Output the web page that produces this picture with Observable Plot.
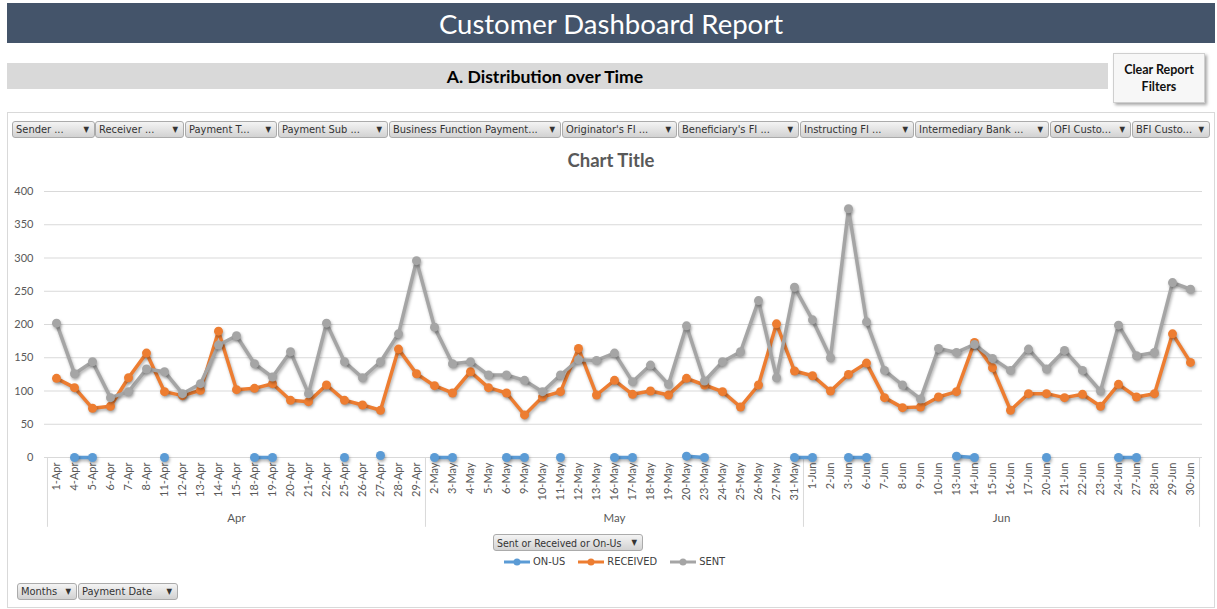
<!DOCTYPE html>
<html><head><meta charset="utf-8">
<script src="https://cdn.jsdelivr.net/npm/d3@7"></script>
<script src="https://cdn.jsdelivr.net/npm/@observablehq/plot@0.6"></script>
<style>
body{margin:0;width:1217px;height:609px;position:relative;background:#fff;font-family:Lato,"Open Sans",sans-serif;overflow:hidden}
#titlebar{position:absolute;left:7px;top:3px;width:1208px;height:40px;background:#44546A;color:#fff;font-size:27.5px;text-align:center;line-height:41px;font-family:Lato,sans-serif}
#section{position:absolute;left:7px;top:63px;width:1101px;height:26px;background:#D9D9D9;color:#000;font-weight:bold;font-size:17.6px;line-height:27px;text-align:center;font-family:Lato,sans-serif;box-sizing:border-box;padding-right:25px}
#clear{position:absolute;left:1113px;top:53px;width:92px;height:50px;background:#F7F7F7;border:1px solid #CFCFCF;box-shadow:2px 2px 3px rgba(0,0,0,0.35);box-sizing:border-box;font-weight:bold;font-size:12.5px;text-align:center;line-height:17px;padding-top:7px;font-family:Lato,sans-serif;color:#111}
#frame{position:absolute;left:7px;top:112px;width:1208px;height:496px;border:1px solid #D9D9D9;box-sizing:border-box}
.btn{position:absolute;height:17px;border:1px solid #ABABAB;border-radius:3px;background:linear-gradient(#F4F4F4,#D2D2D2);font-size:11px;color:#333;line-height:16px;padding-left:3px;box-sizing:border-box;font-family:"Liberation Sans Narrow","DejaVu Sans Condensed","Liberation Sans",sans-serif;white-space:nowrap;overflow:hidden}
.btn .ar{position:absolute;right:5px;top:0;font-size:8px;color:#333;background:transparent}
#charttitle{position:absolute;left:0;width:1222px;top:149px;text-align:center;font-weight:bold;font-size:18.5px;color:#595959;font-family:Lato,sans-serif}
#chart{position:absolute;left:0;top:170px}
#legend{position:absolute;top:555px;left:504px;font-size:11px;color:#404040;font-family:"Liberation Sans Narrow","DejaVu Sans Condensed",sans-serif;display:flex;gap:13px;align-items:center}
#legend span{display:flex;align-items:center;gap:3px}
</style>
</head><body>
<div id="titlebar">Customer Dashboard Report</div>
<div id="section">A. Distribution over Time</div>
<div id="clear">Clear Report<br>Filters</div>
<div id="frame"></div>
<div id="buttons"></div>
<div id="charttitle">Chart Title</div>
<div id="chart"></div>
<div id="legend"></div>
<script>
// ---- data ----
const dates = [
  "1-Apr","4-Apr","5-Apr","6-Apr","7-Apr","8-Apr","11-Apr","12-Apr","13-Apr","14-Apr","15-Apr",
  "18-Apr","19-Apr","20-Apr","21-Apr","22-Apr","25-Apr","26-Apr","27-Apr","28-Apr","29-Apr",
  "2-May","3-May","4-May","5-May","6-May","9-May","10-May","11-May","12-May","13-May","16-May",
  "17-May","18-May","19-May","20-May","23-May","24-May","25-May","26-May","27-May","31-May",
  "1-Jun","2-Jun","3-Jun","6-Jun","7-Jun","8-Jun","9-Jun","10-Jun","13-Jun","14-Jun","15-Jun",
  "16-Jun","17-Jun","20-Jun","21-Jun","22-Jun","23-Jun","24-Jun","27-Jun","28-Jun","29-Jun","30-Jun"
];
const monthLabels = ["Apr","May","Jun"];
const sent = [
  202,126,144,90,99,133,129,96,111,169,183,141,121,159,96,202,144,120,144,186,296,
  196,141,144,124,124,116,99,124,147,146,157,114,139,110,198,115,144,159,236,120,256,
  207,150,374,204,131,109,88,164,158,170,149,131,163,133,161,131,100,199,153,158,263,253
];
const received = [
  119,105,74,77,120,157,99,93,101,190,102,104,111,86,84,109,86,79,71,163,126,
  108,97,129,105,97,64,91,99,164,94,116,95,100,94,119,109,99,76,109,201,130,
  123,100,125,142,90,75,76,91,99,173,135,71,96,96,90,95,77,110,91,96,186,143
];
const onUs = [
  null,0,0,null,null,null,0,null,null,null,null,0,0,null,null,null,0,null,3,null,null,
  0,0,null,null,0,0,null,0,null,null,0,0,null,null,2,0,null,null,null,null,0,
  0,null,0,0,null,null,null,null,2,0,null,null,null,0,null,null,null,0,0,null,null,null
];
const seriesNames = ["ON-US","RECEIVED","SENT"];
const seriesColors = ["#5B9BD5","#ED7D31","#A5A5A5"];
const yTicks = [0,50,100,150,200,250,300,350,400];
const filterLabels = ["Sender ...","Receiver ...","Payment T...","Payment Sub ...","Business Function Payment...","Originator's FI ...","Beneficiary's FI ...","Instructing FI ...","Intermediary Bank ...","OFI Custo...","BFI Custo..."];

// ---- buttons (layout) ----
const btnLayout = [[12,83],[95,89],[185,92],[278,110],[389,172],[562,115],[678,121],[800,114],[915,134],[1050,81],[1132,78]];
const bdiv = document.getElementById("buttons");
function addBtn(label, left, top, width, fs){
  const b = document.createElement("div");
  b.className = "btn";
  b.style.left = left+"px"; b.style.top = top+"px"; b.style.width = width+"px";
  if (fs) b.style.fontSize = fs + "px";
  b.innerHTML = `<span>${label}</span><span class="ar">&#9660;</span>`;
  bdiv.appendChild(b);
}
filterLabels.forEach((l,i)=>addBtn(l, btnLayout[i][0], 121, btnLayout[i][1]));
addBtn("Sent or Received or On-Us", 493, 534, 150, 10.5);
addBtn("Months", 17, 583, 60);
addBtn("Payment Date", 78, 583, 100);

// ---- legend ----
const leg = document.getElementById("legend");
seriesNames.forEach((n,i)=>{
  const s = document.createElement("span");
  s.innerHTML = `<svg width="26" height="10"><line x1="0" x2="26" y1="5" y2="5" stroke="${seriesColors[i]}" stroke-width="3"/><circle cx="13" cy="5" r="3.5" fill="${seriesColors[i]}"/></svg>${n}`;
  leg.appendChild(s);
});

// ---- chart ----
const rows = [];
dates.forEach((d,i)=>{
  rows.push({date:d, series:"ON-US", value:onUs[i]});
  rows.push({date:d, series:"RECEIVED", value:received[i]});
  rows.push({date:d, series:"SENT", value:sent[i]});
});
const W = 1217, mL = 44, mR = 15;
const step = (W - mL - mR) / dates.length;
const monthOf = d => d.split("-")[1];
const groups = monthLabels.map(m => {
  const idx = dates.map((d,i)=>[d,i]).filter(([d])=>monthOf(d)===m).map(([,i])=>i);
  const s = idx[0], e = idx[idx.length-1], mid = (s+e)/2;
  return {m, first: dates[s], last: dates[e], midDate: dates[Math.floor(mid)], off: (mid-Math.floor(mid))*step};
});
const grid = "#D9D9D9";
const chart = Plot.plot({
  width: W, height: 360, marginLeft: mL, marginRight: mR, marginTop: 21, marginBottom: 73,
  style: {fontFamily: "Lato, 'Open Sans', sans-serif", fontSize: "11px", color: "#595959", background: "transparent"},
  x: {type: "point", domain: dates, padding: 0.5, label: null},
  y: {domain: [0,400], label: null},
  color: {domain: seriesNames, range: seriesColors},
  marks: [
    Plot.ruleY(yTicks, {stroke: grid, strokeWidth: 1}),
    Plot.axisY({ticks: yTicks, tickSize: 0, tickPadding: 11, label: null, fill: "#595959"}),
    Plot.axisX({tickRotate: -90, tickSize: 0, tickPadding: 5, label: null, fill: "#595959"}),
    Plot.ruleX(groups, {x: "first", y1: 0, y2: -105, dx: -step/2, stroke: grid}),
    Plot.ruleX(groups.slice(-1), {x: "last", y1: 0, y2: -105, dx: step/2, stroke: grid}),
    Plot.text(groups, {x: "midDate", y: 0, text: "m", dy: 61, fill: "#595959", fontSize: 11.5}),
    ...seriesNames.map(s => Plot.line(rows.filter(r=>r.series===s), {x: "date", y: "value", stroke: "series", strokeWidth: 3.5})),
    ...seriesNames.map(s => Plot.dot(rows.filter(r=>r.series===s && r.value!=null), {x: "date", y: "value", fill: "series", r: 4.5}))
  ]
});
// shift a month label by half a step where its group centre falls between categories
d3.select(chart).selectAll("g[aria-label=text] text").each(function(d,i){
  if (groups[i] && groups[i].off) {
    const t = d3.select(this);
    t.attr("x", (+t.attr("x") || 0) + groups[i].off);
  }
});
d3.select(chart).selectAll("g[aria-label=line], g[aria-label=dot]").style("filter","drop-shadow(1px 2px 1.5px rgba(0,0,0,0.3))");
document.getElementById("chart").appendChild(chart);
</script>
</body></html>
